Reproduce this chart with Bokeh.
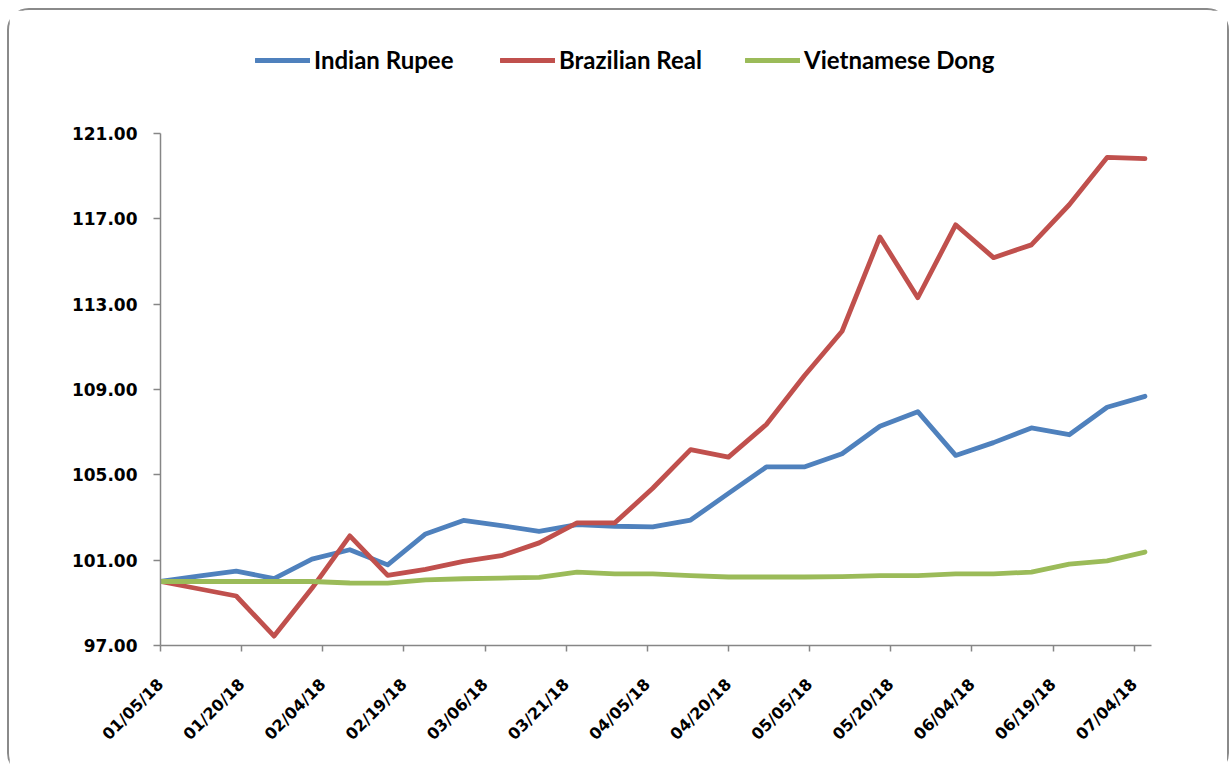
import calendar
import datetime as dt

from bokeh.plotting import figure
from bokeh.layouts import column
from bokeh.models import (Legend, LegendItem, FixedTicker, NumeralTickFormatter,
                          DatetimeTickFormatter, Range1d, ColumnDataSource)
from bokeh.embed import file_html
from bokeh.resources import INLINE

# ---------------- data ----------------
dates = ["2018-01-05", "2018-01-12", "2018-01-19", "2018-01-26", "2018-02-02",
         "2018-02-09", "2018-02-16", "2018-02-23", "2018-03-02", "2018-03-09",
         "2018-03-16", "2018-03-23", "2018-03-30", "2018-04-06", "2018-04-13",
         "2018-04-20", "2018-04-27", "2018-05-04", "2018-05-11", "2018-05-18",
         "2018-05-25", "2018-06-01", "2018-06-08", "2018-06-15", "2018-06-22",
         "2018-06-29", "2018-07-06"]

indian_rupee = [100.00, 100.25, 100.49, 100.13, 101.05, 101.49, 100.78, 102.23,
                102.86, 102.62, 102.35, 102.67, 102.59, 102.56, 102.88, 104.13,
                105.37, 105.37, 105.99, 107.28, 107.96, 105.91, 106.51, 107.20,
                106.88, 108.17, 108.68]

brazilian_real = [100.00, 99.66, 99.32, 97.44, 99.68, 102.14, 100.29, 100.57,
                  100.94, 101.21, 101.81, 102.75, 102.75, 104.37, 106.18, 105.83,
                  107.36, 109.63, 111.73, 116.15, 113.30, 116.72, 115.18, 115.78,
                  117.66, 119.88, 119.82]

vietnamese_dong = [100.00, 100.00, 100.00, 100.00, 100.00, 99.93, 99.92, 100.08,
                   100.13, 100.16, 100.19, 100.44, 100.36, 100.36, 100.28, 100.21,
                   100.21, 100.21, 100.23, 100.28, 100.28, 100.36, 100.36, 100.44,
                   100.81, 100.97, 101.38]

series_names = ["Indian Rupee", "Brazilian Real", "Vietnamese Dong"]
series_colors = ["#4F81BD", "#C0504D", "#9BBB59"]

x_tick_dates = ["2018-01-05", "2018-01-20", "2018-02-04", "2018-02-19", "2018-03-06",
                "2018-03-21", "2018-04-05", "2018-04-20", "2018-05-05", "2018-05-20",
                "2018-06-04", "2018-06-19", "2018-07-04"]
y_ticks = [97, 101, 105, 109, 113, 117, 121]
x_start = "2018-01-05 00:00"
x_end = "2018-07-07 05:00"


def to_ms(s):
    fmt = "%Y-%m-%d %H:%M" if " " in s else "%Y-%m-%d"
    d = dt.datetime.strptime(s, fmt)
    return calendar.timegm(d.timetuple()) * 1000.0


x_ms = [to_ms(d) for d in dates]

# ---------------- main chart ----------------
p = figure(x_axis_type="datetime", output_backend="svg", toolbar_location=None,
           width=1218, height=655,
           min_border_left=151, min_border_right=76,
           min_border_top=15, min_border_bottom=128,
           x_range=Range1d(to_ms(x_start), to_ms(x_end)),
           y_range=Range1d(y_ticks[0], y_ticks[-1]))

p.xgrid.visible = False
p.ygrid.visible = False
p.outline_line_color = None
p.background_fill_color = "white"
p.border_fill_color = "white"

src = ColumnDataSource(dict(x=x_ms, r=indian_rupee, b=brazilian_real, v=vietnamese_dong))
line_kw = dict(line_width=4.8, line_join="round", line_cap="round")
for col, color in zip(["r", "b", "v"], series_colors):
    p.line("x", col, source=src, line_color=color, **line_kw)

axis_color = "#868686"
for ax in (p.xaxis[0], p.yaxis[0]):
    ax.axis_line_color = axis_color
    ax.axis_line_width = 1.5
    ax.major_tick_line_color = axis_color
    ax.major_tick_line_width = 1.5
    ax.minor_tick_line_color = None
    ax.major_tick_in = 0
    ax.major_label_text_font = "DejaVu Sans"
    ax.major_label_text_font_style = "bold"
    ax.major_label_text_color = "black"

p.yaxis.ticker = FixedTicker(ticks=y_ticks)
p.yaxis.formatter = NumeralTickFormatter(format="0.00")
p.yaxis.major_tick_out = 7
p.yaxis.major_label_standoff = 16
p.yaxis.major_label_text_font_size = "17px"

p.xaxis.ticker = FixedTicker(ticks=[to_ms(d) for d in x_tick_dates])
fmt = "%m/%d/%y"
p.xaxis.formatter = DatetimeTickFormatter(
    microseconds=fmt, milliseconds=fmt, seconds=fmt, minsec=fmt, minutes=fmt,
    hourmin=fmt, hours=fmt, days=fmt, months=fmt, years=fmt)
p.xaxis.major_tick_out = 6
p.xaxis.major_label_orientation = 0.7853981634
p.xaxis.major_label_standoff = 30
p.xaxis.major_label_text_font_size = "16px"

# ---------------- legend strip above the chart ----------------
lg = figure(output_backend="svg", toolbar_location=None, width=1218, height=108,
            min_border=0, x_axis_location=None, y_axis_location=None,
            x_range=Range1d(0, 1), y_range=Range1d(0, 1))
lg.grid.visible = False
lg.outline_line_color = None
lg.background_fill_color = "white"
lg.border_fill_color = "white"

# the same series, out of this strip's view: used only for the legend keys
items = []
for col, name, color in zip(["r", "b", "v"], series_names, series_colors):
    r = lg.line("x", col, source=src, line_color=color, **line_kw)
    items.append(LegendItem(label=name, renderers=[r]))

leg = Legend(items=items, location=(95, 44), orientation="horizontal",
             glyph_width=55, glyph_height=26, label_height=26, label_width=186,
             label_standoff=4, padding=0, margin=0, spacing=0,
             border_line_alpha=0, background_fill_alpha=0,
             label_text_font="Lato", label_text_font_style="bold",
             label_text_font_size="24px", label_text_color="black")
lg.add_layout(leg, "center")

layout = column(lg, p)
layout.margin = (10, 0, 0, 9)
layout.styles = {"outline": "2px solid #8a8a8a", "border-radius": "20px"}

open("out.html", "w").write(file_html(layout, INLINE))
